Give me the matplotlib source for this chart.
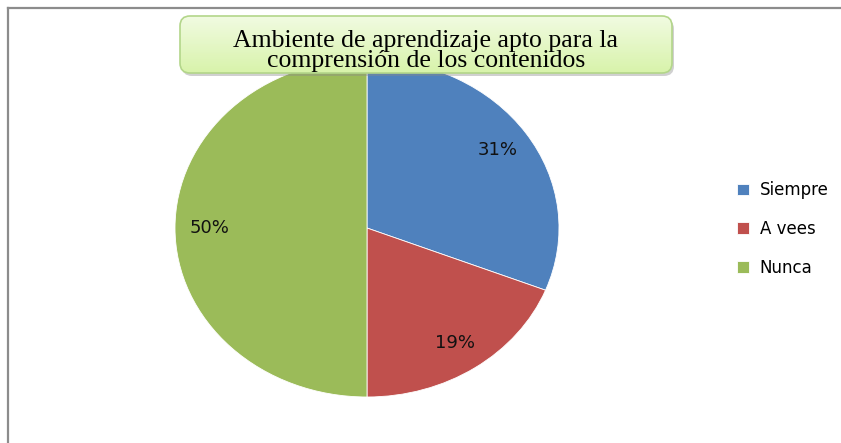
import numpy as np
import matplotlib.pyplot as plt
from matplotlib.patches import FancyBboxPatch
from matplotlib.lines import Line2D

# data
labels = ['Siempre', 'A vees', 'Nunca']
values = [31, 19, 50]
colors = ['#4F81BD', '#C0504D', '#9BBB59']
title = 'Ambiente de aprendizaje apto para la\ncomprensión de los contenidos'

W, H = 841, 443
fig = plt.figure(figsize=(W / 100, H / 100), dpi=100)

# pie axes (elliptical pie, so aspect left auto)
ax = fig.add_axes([175 / W, 1 - 397 / H, 384 / W, 338 / H])
wedges, _, autotexts = ax.pie(values, colors=colors, startangle=90, counterclock=False,
                              autopct='%d%%', pctdistance=0.82, radius=1,
                              wedgeprops=dict(linewidth=0.6, edgecolor='white'),
                              textprops=dict(fontsize=13, color='#111111'))
ax.set_aspect('auto')
ax.set_xlim(-1, 1)
ax.set_ylim(-1, 1)

# legend
fig.legend(wedges, labels, loc='center left', bbox_to_anchor=(737 / W, 1 - 229 / H),
           frameon=False, fontsize=12, borderpad=0, borderaxespad=0,
           handlelength=0.7, handleheight=0.7, handletextpad=0.65, labelspacing=1.25)

# decoration layer: frame and title box
deco = fig.add_axes([0, 0, 1, 1], zorder=5)
deco.axis('off')
deco.patch.set_alpha(0)

deco.add_line(Line2D([8, W + 5], [8, 8], color='#8c8c8c', lw=1.6))
deco.add_line(Line2D([8, 8], [8, H + 5], color='#8c8c8c', lw=1.6))

x0, y0, x1, y1 = 180, 16, 672, 73
shadow = FancyBboxPatch((x0 + 2, y0 + 3), x1 - x0, y1 - y0,
                        boxstyle='round,pad=0,rounding_size=10',
                        fc='#8a8a8a', ec='none', alpha=0.4)
deco.add_patch(shadow)
grad = np.linspace(0, 1, 64).reshape(-1, 1)
top = np.array([0xf1, 0xfb, 0xe2]) / 255
bot = np.array([0xd8, 0xf3, 0xaa]) / 255
img = top + (bot - top) * grad[..., None]
im = deco.imshow(img, extent=[x0, x1, y1, y0], aspect='auto', zorder=2)
clip = FancyBboxPatch((x0, y0), x1 - x0, y1 - y0,
                      boxstyle='round,pad=0,rounding_size=10', fc='none', ec='none')
deco.add_patch(clip)
im.set_clip_path(clip)
box = FancyBboxPatch((x0, y0), x1 - x0, y1 - y0,
                     boxstyle='round,pad=0,rounding_size=10',
                     fc='none', ec='#b3d68a', lw=1.2, zorder=3)
deco.add_patch(box)
deco.set_xlim(0, W)
deco.set_ylim(H, 0)

deco.text((x0 + x1) / 2, 51, title, ha='center', va='center', fontsize=18.5,
          family='Liberation Serif', linespacing=0.93, color='black', zorder=4)

fig.savefig('out.png', dpi=100)
